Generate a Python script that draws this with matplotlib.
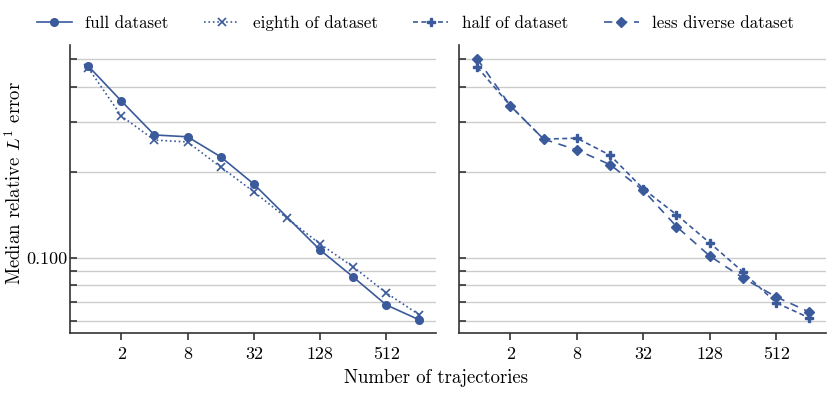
import numpy as np
import matplotlib
matplotlib.use("Agg")
import matplotlib.pyplot as plt
from matplotlib.ticker import FixedLocator, FixedFormatter, NullFormatter, FormatStrFormatter

# Data
n_traj = [1, 2, 4, 8, 16, 32, 64, 128, 256, 512, 1024]
n_full = [1, 2, 4, 8, 16, 32, 128, 256, 512, 1024]
full_err = [0.474, 0.357, 0.271, 0.267, 0.227, 0.182, 0.1067, 0.0857, 0.0683, 0.0605]
eighth_err = [0.467, 0.316, 0.260, 0.256, 0.209, 0.171, 0.138, 0.112, 0.0930, 0.0753, 0.0630]
half_err = [0.470, 0.343, 0.262, 0.264, 0.230, 0.175, 0.142, 0.113, 0.0893, 0.0695, 0.0615]
diverse_err = [0.502, 0.343, 0.262, 0.240, 0.213, 0.173, 0.129, 0.1016, 0.085, 0.0729, 0.0645]

xticks = [2, 8, 32, 128, 512]
xtick_labels = ["2", "8", "32", "128", "512"]

color = "#3a5a9b"

plt.rcParams["font.family"] = "cmr10"
plt.rcParams["mathtext.fontset"] = "cm"
plt.rcParams["axes.unicode_minus"] = False
plt.rcParams["font.size"] = 13

fig = plt.figure(figsize=(8.31, 3.93), dpi=100)
ax1 = fig.add_axes([0.0842, 0.1527, 0.4404, 0.7328])
ax2 = fig.add_axes([0.5523, 0.1527, 0.4416, 0.7328], sharey=ax1, sharex=ax1)

ax1.plot(n_full, full_err, color=color, lw=1.2, marker="o", ms=5.5, label="full dataset")
ax1.plot(n_traj, eighth_err, color=color, lw=1.2, ls=":", marker="x", ms=5.5, mew=1.2,
         label="eighth of dataset")
ax2.plot(n_traj, half_err, color=color, lw=1.2, ls=(0, (3, 2)), marker="P", ms=6,
         label="half of dataset")
ax2.plot(n_traj, diverse_err, color=color, lw=1.2, ls=(0, (5, 4)), marker="D", ms=5.5,
         label="less diverse dataset")

for ax in (ax1, ax2):
    ax.set_xscale("log", base=2)
    ax.set_yscale("log")
    ax.set_xlim(2 ** -0.55, 2 ** 10.5)
    ax.set_ylim(0.0544, 0.562)
    ax.xaxis.set_major_locator(FixedLocator(xticks))
    ax.xaxis.set_major_formatter(FixedFormatter(xtick_labels))
    ax.xaxis.set_minor_locator(FixedLocator([]))
    ax.yaxis.set_major_formatter(FormatStrFormatter("%.3f"))
    ax.yaxis.set_minor_formatter(NullFormatter())
    ax.grid(True, axis="y", which="both", color="#cccccc", lw=1)
    ax.set_axisbelow(True)
    for s in ("top", "right"):
        ax.spines[s].set_visible(False)
    for s in ("left", "bottom"):
        ax.spines[s].set_linewidth(1.2)
        ax.spines[s].set_color("#333333")
    ax.tick_params(axis="x", direction="out", length=5, width=1.2, color="#333333", pad=5)
    ax.tick_params(axis="y", which="both", direction="in", length=5, width=1.2,
                   color="#333333", pad=2)

ax2.tick_params(axis="y", which="both", labelleft=False)

ax1.set_ylabel("Median relative $L^1$ error", fontsize=13.5, va="center")
ax1.yaxis.set_label_coords(-0.152, 0.52)
fig.text(0.525, 0.015, "Number of trajectories", ha="center", va="bottom", fontsize=13.5)

h1, l1 = ax1.get_legend_handles_labels()
h2, l2 = ax2.get_legend_handles_labels()
fig.legend(h1 + h2, l1 + l2, loc="upper center", ncol=4, frameon=False, fontsize=12.2,
           bbox_to_anchor=(0.5, 1.0), columnspacing=2.1, handlelength=2.07,
           handletextpad=0.8)

fig.savefig("out.png", dpi=100)
